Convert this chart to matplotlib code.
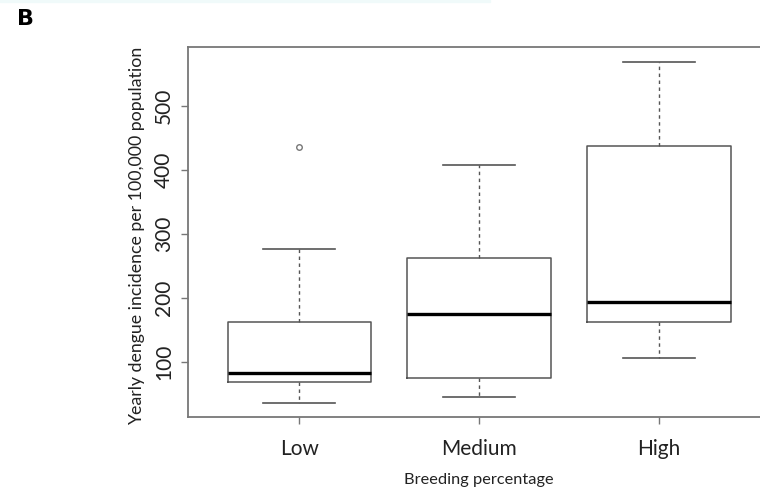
import matplotlib.pyplot as plt
from matplotlib.patches import Rectangle

# Values (yearly dengue incidence per 100,000)
groups = ['Low', 'Medium', 'High']
whisker_low = [36, 45, 106]
q1 = [69, 75, 162]
medians = [83, 175, 194]
q3 = [163, 263, 437]
whisker_high = [277, 408, 569]
outliers = [[436], [], []]

plt.rcParams['font.family'] = ['Lato', 'DejaVu Sans']

fig = plt.figure(figsize=(7.6, 4.91), dpi=100)
# faint strip left over at the top of the scanned figure
fig.patches.append(Rectangle((0, 0.995), 0.645, 0.005, transform=fig.transFigure,
                             color='#f0fafa', zorder=0))

# axes box runs past the right edge, as in the reference
ax = fig.add_axes([0.2474, 0.1507, 0.766, 0.7536])

stats = []
for i, name in enumerate(groups):
    stats.append(dict(label=name, med=medians[i], q1=q1[i], q3=q3[i],
                      whislo=whisker_low[i], whishi=whisker_high[i], fliers=outliers[i]))

box_col = '#555555'
ax.bxp(stats, positions=[1, 2, 3], widths=0.8, showfliers=True,
       boxprops=dict(color=box_col, linewidth=1.1),
       medianprops=dict(color='black', linewidth=2.4, solid_capstyle='butt'),
       whiskerprops=dict(color=box_col, linewidth=1.0, linestyle=(0, (2.5, 2.5))),
       capprops=dict(color=box_col, linewidth=1.2),
       flierprops=dict(marker='o', markersize=4, markerfacecolor='none',
                       markeredgecolor='#777777', markeredgewidth=1.0),
       capwidths=0.4)

ax.set_xlim(0.38, 3.62)
ax.set_ylim(14, 592)
ax.set_yticks([100, 200, 300, 400, 500])
ax.set_xticks([1, 2, 3])
ax.set_xticklabels(groups, fontsize=15, color='#222222')
for lab in ax.get_yticklabels():
    lab.set_rotation(90)
    lab.set_va('center')
    lab.set_fontsize(15)
    lab.set_color('#222222')

for side in ['top', 'right', 'left', 'bottom']:
    ax.spines[side].set_color('#777777')
    ax.spines[side].set_linewidth(1.3)
ax.tick_params(axis='both', direction='out', length=5, color='#777777', width=1.0)
ax.tick_params(axis='x', pad=11)
ax.tick_params(axis='y', pad=5)

ax.set_ylabel('Yearly dengue incidence per 100,000 population', fontsize=12.8,
              color='#222222')
ax.set_xlabel('Breeding percentage', fontsize=11.8, color='#222222')
ax.yaxis.set_label_coords(-0.073, 0.49)
ax.xaxis.set_label_coords(0.5, -0.152)

fig.text(0.022, 0.962, 'B', fontsize=16, fontweight='bold', family='DejaVu Sans',
         va='center', ha='left')

fig.savefig('out.png', dpi=100)
